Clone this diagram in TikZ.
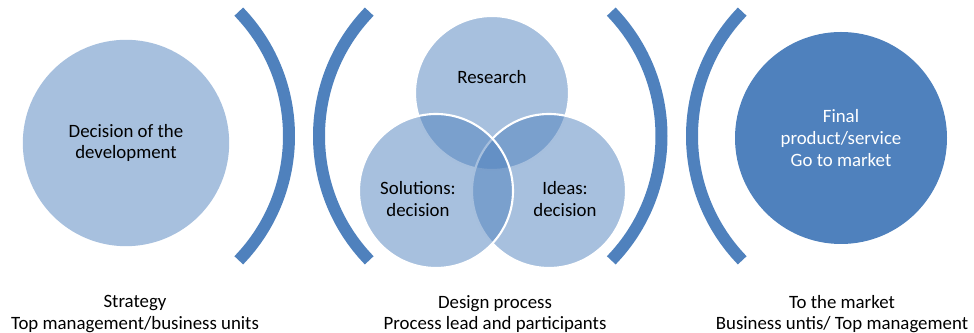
\documentclass[tikz,border=0pt]{standalone}
\usepackage{fontspec}
\setmainfont{Carlito}
\definecolor{accent}{HTML}{4F81BD}

\begin{document}
\begin{tikzpicture}
[
  every node/.style={font=\fontsize{13.4}{15.4}\selectfont},
  phase/.style={circle,inner sep=0pt,align=center},
  venn/.style={circle,minimum size=3.85cm,inner sep=0pt,fill=accent,fill opacity=0.5,draw=white,line width=1.5pt},
  bracket/.style={draw=accent,line width=0.3cm},
  caption/.style={align=center}
]
\useasboundingbox (0,0) rectangle (24.35,8.325);

% strategy
\node[phase,minimum size=5.16cm,fill=accent!50] (decision) at (3.15,4.75) {Decision of the\\ development};
\node[caption] (strategy) at (3.375,0.47) {Strategy\\ Top management/business units};

% brackets around the design process
\draw[bracket] (2.75,4.925) ++(-44:4.475) arc[start angle=-44,end angle=44,radius=4.475];
\draw[bracket] (12.45,4.925) ++(136:4.475) arc[start angle=136,end angle=224,radius=4.475];
\draw[bracket] (12.0625,4.925) ++(-44:4.475) arc[start angle=-44,end angle=44,radius=4.475];
\draw[bracket] (21.775,4.925) ++(136:4.475) arc[start angle=136,end angle=224,radius=4.475];

% design process
\node[venn] (research) at (12.3,6.0) {};
\node[venn] (ideas) at (13.725,3.55) {};
\node[venn] (solutions) at (10.9,3.55) {};

\node (researchtxt) at (12.3,6.4) {Research};
\node[align=center] (solutionstxt) at (10.45,3.35) {Solutions:\\ decision};
\node[align=center] (ideastxt) at (14.125,3.35) {Ideas:\\ decision};
\node[caption] (design) at (12.375,0.47) {Design process\\ Process lead and participants};

% market
\node[phase,minimum size=5.3cm,fill=accent,text=white] (final) at (21.025,4.875) {Final\\ product/service\\ Go to market};
\node[caption] (market) at (21.05,0.47) {To the market\\ Business untis/ Top management};

\end{tikzpicture}
\end{document}
